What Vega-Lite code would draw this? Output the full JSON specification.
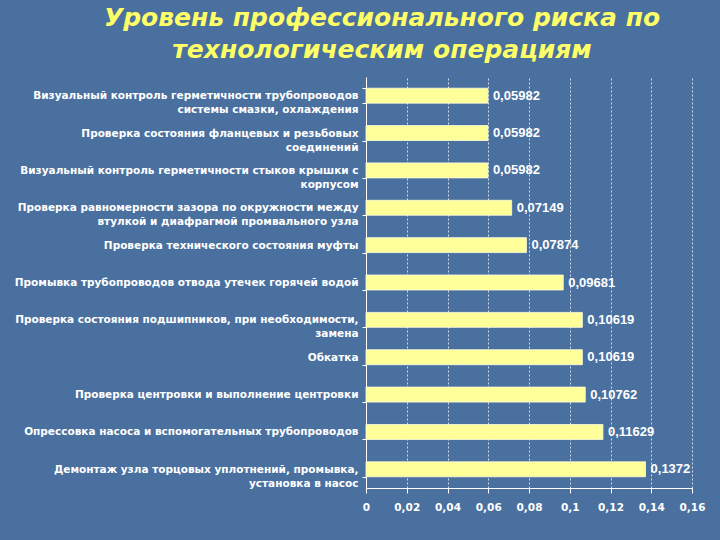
{
  "$schema": "https://vega.github.io/schema/vega-lite/v6.json",
  "autosize": {"type": "none"},
  "padding": {"left": 366, "top": 77, "right": 28, "bottom": 52},
  "width": 326,
  "height": 411,
  "background": "#4A70A0",
  "title": {
    "text": ["Уровень профессионального риска по", "технологическим операциям"],
    "color": "#FFFF66",
    "font": "DejaVu Sans",
    "fontSize": 25,
    "fontWeight": "bold",
    "fontStyle": "italic",
    "lineHeight": 32,
    "anchor": "middle",
    "frame": "group",
    "dx": -147,
    "offset": 9
  },
  "config": {
    "view": {"stroke": null},
    "locale": {"number": {"decimal": ",", "thousands": " ", "grouping": [3], "currency": ["", ""]}}
  },
  "data": {
    "values": [
      {"op": "Визуальный контроль герметичности трубопроводов|системы смазки, охлаждения", "v": 0.05982},
      {"op": "Проверка состояния фланцевых и резьбовых|соединений", "v": 0.05982},
      {"op": "Визуальный контроль герметичности стыков крышки с|корпусом", "v": 0.05982},
      {"op": "Проверка равномерности зазора по окружности между|втулкой и диафрагмой промвального узла", "v": 0.07149},
      {"op": "Проверка технического состояния муфты", "v": 0.07874},
      {"op": "Промывка трубопроводов отвода утечек горячей водой", "v": 0.09681},
      {"op": "Проверка состояния подшипников, при необходимости,|замена", "v": 0.10619},
      {"op": "Обкатка", "v": 0.10619},
      {"op": "Проверка центровки и выполнение центровки", "v": 0.10762},
      {"op": "Опрессовка насоса и вспомогательных трубопроводов", "v": 0.11629},
      {"op": "Демонтаж узла торцовых уплотнений, промывка,|установка в насос", "v": 0.1372}
    ]
  },
  "encoding": {
    "y": {
      "field": "op",
      "type": "nominal",
      "sort": null,
      "scale": {"paddingInner": 0.6, "paddingOuter": 0.3},
      "axis": {
        "title": null,
        "labelExpr": "split(datum.label, '|')",
        "labelFont": "DejaVu Sans",
        "labelFontWeight": "bold",
        "labelFontSize": 10.5,
        "labelColor": "#FFFFFF",
        "labelLineHeight": 14,
        "labelLimit": 400,
        "labelPadding": 4,
        "tickSize": 4,
        "tickBand": "extent",
        "tickColor": "#FFFFFF",
        "domainColor": "#FFFFFF",
        "grid": false
      }
    },
    "x": {
      "field": "v",
      "type": "quantitative",
      "scale": {"domain": [0, 0.16], "nice": false},
      "axis": {
        "title": null,
        "values": [0, 0.02, 0.04, 0.06, 0.08, 0.1, 0.12, 0.14, 0.16],
        "format": "~g",
        "labelFlush": false,
        "labelOverlap": false,
        "labelBound": false,
        "labelFont": "DejaVu Sans",
        "labelFontWeight": "bold",
        "labelFontSize": 10.5,
        "labelColor": "#FFFFFF",
        "labelPadding": 9,
        "tickSize": 5,
        "tickColor": "#FFFFFF",
        "domainColor": "#FFFFFF",
        "grid": true,
        "gridColor": "#FFFFFF",
        "gridDash": [2, 2],
        "gridOpacity": 0.75
      }
    }
  },
  "layer": [
    {"mark": {"type": "bar", "color": "#FFFF99", "stroke": "#FFFFDD", "strokeWidth": 0.8}},
    {
      "mark": {"type": "text", "align": "left", "baseline": "middle", "dx": 5, "color": "#FFFFFF", "font": "Liberation Sans", "fontWeight": "bold", "fontSize": 13},
      "encoding": {"text": {"field": "v", "type": "quantitative", "format": "~g"}}
    }
  ]
}
